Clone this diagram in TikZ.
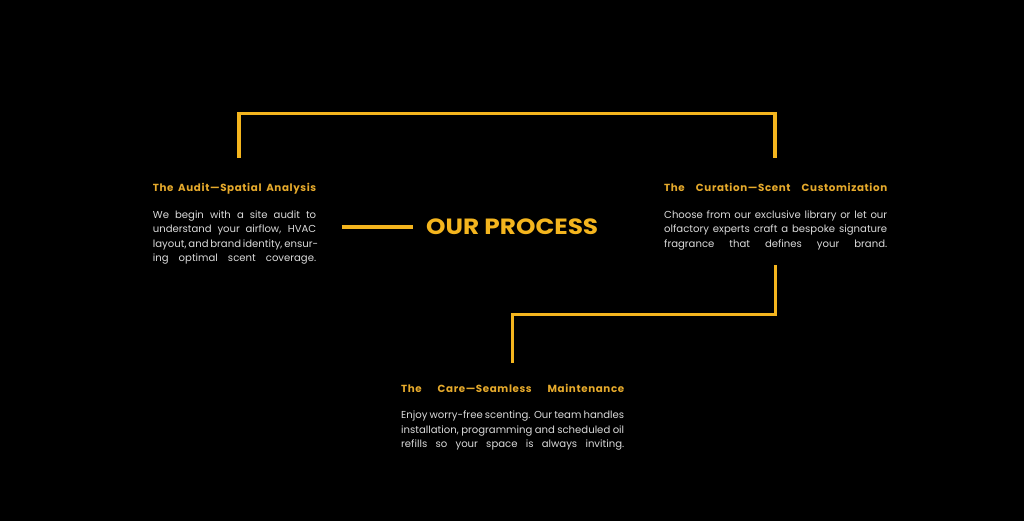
\documentclass[tikz,border=0pt]{standalone}
\usepackage{fontspec}
\usepackage{graphicx}
\setmainfont{Poppins}
\newfontfamily\headfont[LetterSpace=6]{Poppins}
\newfontfamily\bodyfont{Poppins}
\definecolor{gold}{HTML}{F4B51E}
\definecolor{headgold}{HTML}{E6AA2C}
\definecolor{bodygrey}{HTML}{DADADA}
\tikzset{
  conn/.style={draw=gold, line width=3.3pt, line cap=butt, line join=miter},
  headtxt/.style={anchor=base west, inner sep=0pt, text=headgold, font=\headfont\fontsize{10.3}{12}\selectfont\bfseries},
  bodytxt/.style={anchor=base west, inner sep=0pt, text=bodygrey, font=\bodyfont\fontsize{10.1}{14.5}\selectfont},
  titletxt/.style={anchor=base west, inner sep=0pt, text=gold, font=\fontsize{22}{26}\selectfont\bfseries}
}
\newcommand{\jl}[2]{\makebox[#1][s]{#2}}
\begin{document}
\begin{tikzpicture}[x=1pt,y=-1pt]
\fill[black] (0,0) rectangle (1024,521);
\useasboundingbox (0,0) rectangle (1024,521);
% coordinates
\coordinate (a1) at (239,158);
\coordinate (a2) at (239,113.3);
\coordinate (a3) at (775,113.3);
\coordinate (a4) at (775,158);
\coordinate (b1) at (775.6,265);
\coordinate (b2) at (775.6,314.3);
\coordinate (b3) at (512.3,314.3);
\coordinate (b4) at (512.3,362.7);
\coordinate (c1) at (341.7,227);
\coordinate (c2) at (412.7,227);
\draw[conn] (a1) -- (a2) -- (a3) -- (a4);
\draw[conn] (b1) -- (b2) -- (b3) -- (b4);
\draw[conn] (c1) -- (c2);
% title
\node[titletxt] (title) at (426,235) {\resizebox{172pt}{15.7pt}{OUR PROCESS}};
% left block
\node[headtxt] (h1) at (152.7,192) {\jl{163.3pt}{The Audit—Spatial Analysis}};
\node[bodytxt] (l1) at (152.7,218.3) {\jl{163.3pt}{We begin with a site audit to}};
\node[bodytxt] (l2) at (152.7,232.8) {\jl{163.3pt}{understand your airflow, HVAC}};
\node[bodytxt] (l3) at (152.7,247.3) {\jl{163.3pt}{layout, and brand identity, ensur-}};
\node[bodytxt] (l4) at (152.7,261.8) {\jl{163.3pt}{ing optimal scent coverage.}};
% right block
\node[headtxt] (h2) at (664,192) {\jl{223pt}{The Curation—Scent Customization}};
\node[bodytxt] (r1) at (664,218.3) {\jl{223pt}{Choose from our exclusive library or let our}};
\node[bodytxt] (r2) at (664,232.8) {\jl{223pt}{olfactory experts craft a bespoke signature}};
\node[bodytxt] (r3) at (664,247.3) {\jl{223pt}{fragrance that defines your brand.}};
% bottom block
\node[headtxt] (h3) at (401,392.5) {\jl{223pt}{The Care—Seamless Maintenance}};
\node[bodytxt] (m1) at (401,418.3) {\jl{223pt}{Enjoy worry-free scenting. Our team handles}};
\node[bodytxt] (m2) at (401,433) {\jl{223pt}{installation, programming and scheduled oil}};
\node[bodytxt] (m3) at (401,447.7) {\jl{223pt}{refills so your space is always inviting.}};
\end{tikzpicture}
\end{document}
